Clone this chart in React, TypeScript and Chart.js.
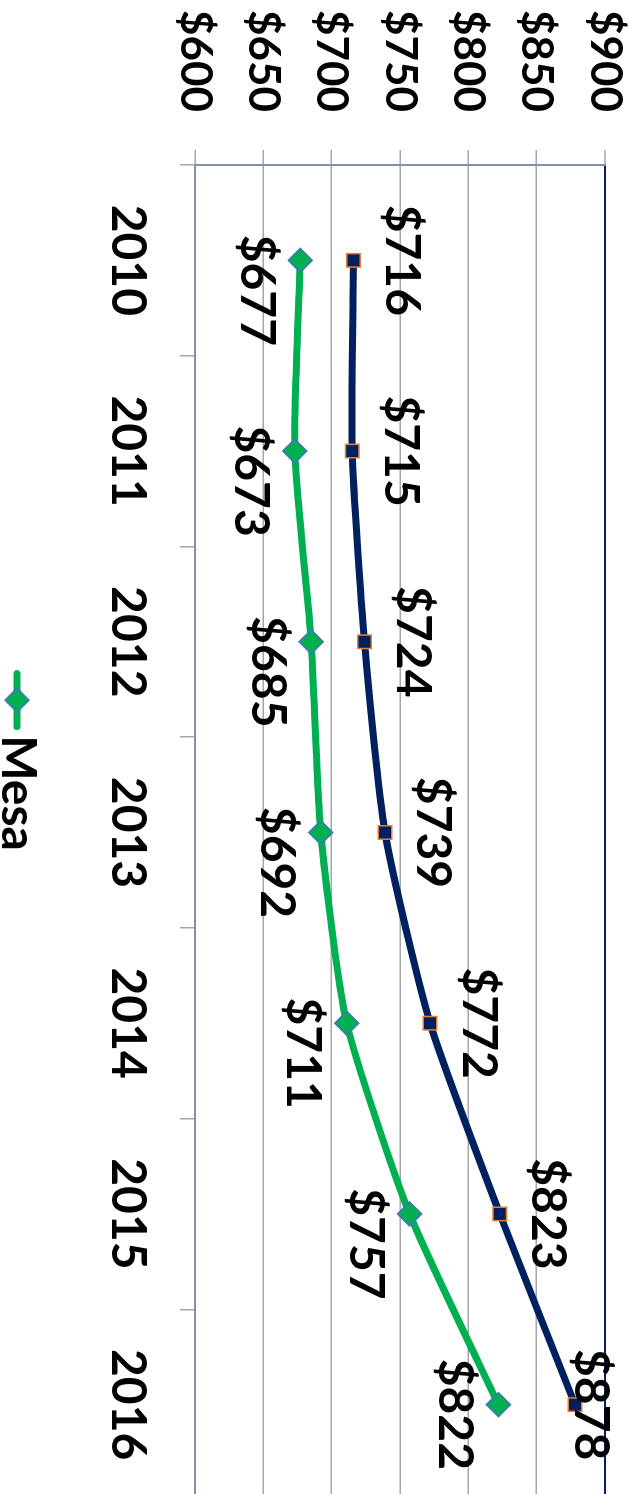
import { useEffect, useRef } from 'react';
import { Chart, registerables } from 'chart.js';

Chart.register(...registerables);

// ---- data ----
const years = ['2010', '2011', '2012', '2013', '2014', '2015', '2016'];
const mesaRent = [677, 673, 685, 692, 711, 757, 822];
const otherRent = [716, 715, 724, 739, 772, 823, 878];
const valueRange = [600, 900];
const valueStep = 50;
const legendNames = ['Mesa'];

// ---- styles ----
const FONT = 'Lato';
const NAVY = '#002060';
const GREEN = '#00B050';
const GRID = '#A6A6A6';
const AXIS = '#8391A8';
const W = 1540;
const H = 650;

function makeLegendSymbol() {
  const c = document.createElement('canvas');
  c.width = 60;
  c.height = 28;
  const g = c.getContext('2d')!;
  g.strokeStyle = GREEN;
  g.lineWidth = 7;
  g.lineCap = 'round';
  g.beginPath();
  g.moveTo(3.5, 14);
  g.lineTo(56.5, 14);
  g.stroke();
  g.beginPath();
  g.moveTo(30, 2);
  g.lineTo(42, 14);
  g.lineTo(30, 26);
  g.lineTo(18, 14);
  g.closePath();
  g.fillStyle = GREEN;
  g.fill();
  g.strokeStyle = '#4472C4';
  g.lineWidth = 1.5;
  g.stroke();
  return c;
}

const labelPlugin = {
  id: 'valueLabels',
  afterDatasetsDraw(chart: any) {
    const ctx = chart.ctx;
    ctx.save();
    ctx.font = `bold 48px ${FONT}`;
    ctx.fillStyle = '#000';
    ctx.textAlign = 'center';
    ctx.textBaseline = 'middle';
    chart.data.datasets.forEach((ds: any, di: number) => {
      const meta = chart.getDatasetMeta(di);
      meta.data.forEach((pt: any, j: number) => {
        const text = '$' + ds.data[j];
        const w = ctx.measureText(text).width;
        let cx = pt.x;
        let cy = pt.y;
        if (di === 0) {
          cy = Math.max(pt.y - 48, 43);
        } else {
          cx = pt.x + 30;
          cy = pt.y + 44;
        }
        if (cx + w / 2 > 1470) cx = 1470 - w / 2;
        ctx.fillText(text, cx, cy);
      });
    });
    ctx.restore();
  },
};

export default function App() {
  const ref = useRef<HTMLCanvasElement | null>(null);

  useEffect(() => {
    let chart: Chart | null = null;
    let cancelled = false;
    const make = () => {
      if (cancelled || !ref.current) return;
      const symbol = makeLegendSymbol();
      chart = new Chart(ref.current, {
        type: 'line',
        data: {
          labels: years,
          datasets: [
            {
              label: 'Other',
              data: otherRent,
              borderColor: NAVY,
              borderWidth: 7,
              tension: 0.2,
              pointStyle: 'rect',
              pointRadius: 9.5,
              pointHoverRadius: 9.5,
              pointBackgroundColor: NAVY,
              pointBorderColor: '#ED7D31',
              pointBorderWidth: 1.5,
            },
            {
              label: legendNames[0],
              data: mesaRent,
              borderColor: GREEN,
              borderWidth: 7,
              tension: 0.2,
              pointStyle: 'rectRot',
              pointRadius: 12,
              pointHoverRadius: 12,
              pointBackgroundColor: GREEN,
              pointBorderColor: '#4472C4',
              pointBorderWidth: 1.5,
            },
          ],
        },
        options: {
          responsive: false,
          animation: false,
          devicePixelRatio: 1,
          events: [],
          layout: { padding: { top: 28, left: 0, right: 0, bottom: 0 } },
          plugins: {
            tooltip: { enabled: false },
            legend: {
              position: 'bottom',
              labels: {
                usePointStyle: true,
                pointStyleWidth: 22,
                padding: 10,
                color: '#000',
                font: { family: FONT, size: 48, weight: 'bold' },
                generateLabels: () =>
                  legendNames.map((name) => ({
                    text: name,
                    pointStyle: symbol as any,
                    datasetIndex: 1,
                    hidden: false,
                    lineWidth: 0,
                    strokeStyle: 'rgba(0,0,0,0)',
                    fillStyle: 'rgba(0,0,0,0)',
                  })),
              },
            },
          },
          scales: {
            x: {
              type: 'category',
              offset: true,
              grid: {
                display: true,
                drawOnChartArea: false,
                drawTicks: true,
                tickLength: 15,
                color: GRID,
                lineWidth: 1.5,
                offset: true,
              },
              border: { display: true, color: AXIS, width: 2 },
              ticks: {
                font: { family: FONT, size: 48, weight: 'bold' },
                color: '#000',
                padding: 24,
                maxRotation: 0,
                minRotation: 0,
                autoSkip: false,
              },
              afterFit: (s: any) => {
                s.height = 144;
                s.paddingLeft = 0;
                s.paddingRight = 0;
              },
            },
            y: {
              type: 'linear',
              position: 'left',
              min: valueRange[0],
              max: valueRange[1],
              ticks: {
                stepSize: valueStep,
                callback: (v: any) => '$' + v,
                font: { family: FONT, size: 44, weight: 'bold' },
                color: '#000',
                padding: 38,
              },
              grid: {
                color: (c: any) =>
                  c.tick && c.tick.value === valueRange[1]
                    ? NAVY
                    : c.tick && c.tick.value === valueRange[0]
                    ? 'rgba(0,0,0,0)'
                    : GRID,
                lineWidth: (c: any) => (c.tick && c.tick.value === valueRange[1] ? 2 : 1.5),
                tickColor: GRID,
                tickWidth: 1.5,
                tickLength: 15,
                drawTicks: true,
              },
              border: { color: AXIS, width: 2 },
              afterFit: (s: any) => {
                s.width = 165;
                s.paddingTop = 0;
                s.paddingBottom = 0;
              },
            },
            pad: {
              type: 'linear',
              position: 'right',
              display: true,
              ticks: { display: false },
              grid: { display: false },
              border: { display: false },
              afterFit: (s: any) => {
                s.width = 40;
                s.paddingTop = 0;
                s.paddingBottom = 0;
              },
            },
          },
        } as any,
        plugins: [labelPlugin],
      });
    };
    const fonts = (document as any).fonts;
    if (fonts && fonts.load) {
      Promise.all([fonts.load(`bold 48px ${FONT}`), fonts.load(`bold 44px ${FONT}`)]).then(make, make);
    } else {
      make();
    }
    return () => {
      cancelled = true;
      if (chart) chart.destroy();
    };
  }, []);

  return (
    <div
      style={{
        position: 'fixed',
        left: 0,
        top: 0,
        width: 633,
        height: 1494,
        overflow: 'hidden',
        background: '#fff',
      }}
    >
      <div
        style={{
          position: 'absolute',
          left: 0,
          top: 0,
          width: W,
          height: H,
          transformOrigin: '0 0',
          transform: 'translateX(633px) rotate(90deg)',
        }}
      >
        <canvas ref={ref} width={W} height={H} style={{ display: 'block', width: W, height: H }} />
      </div>
    </div>
  );
}
